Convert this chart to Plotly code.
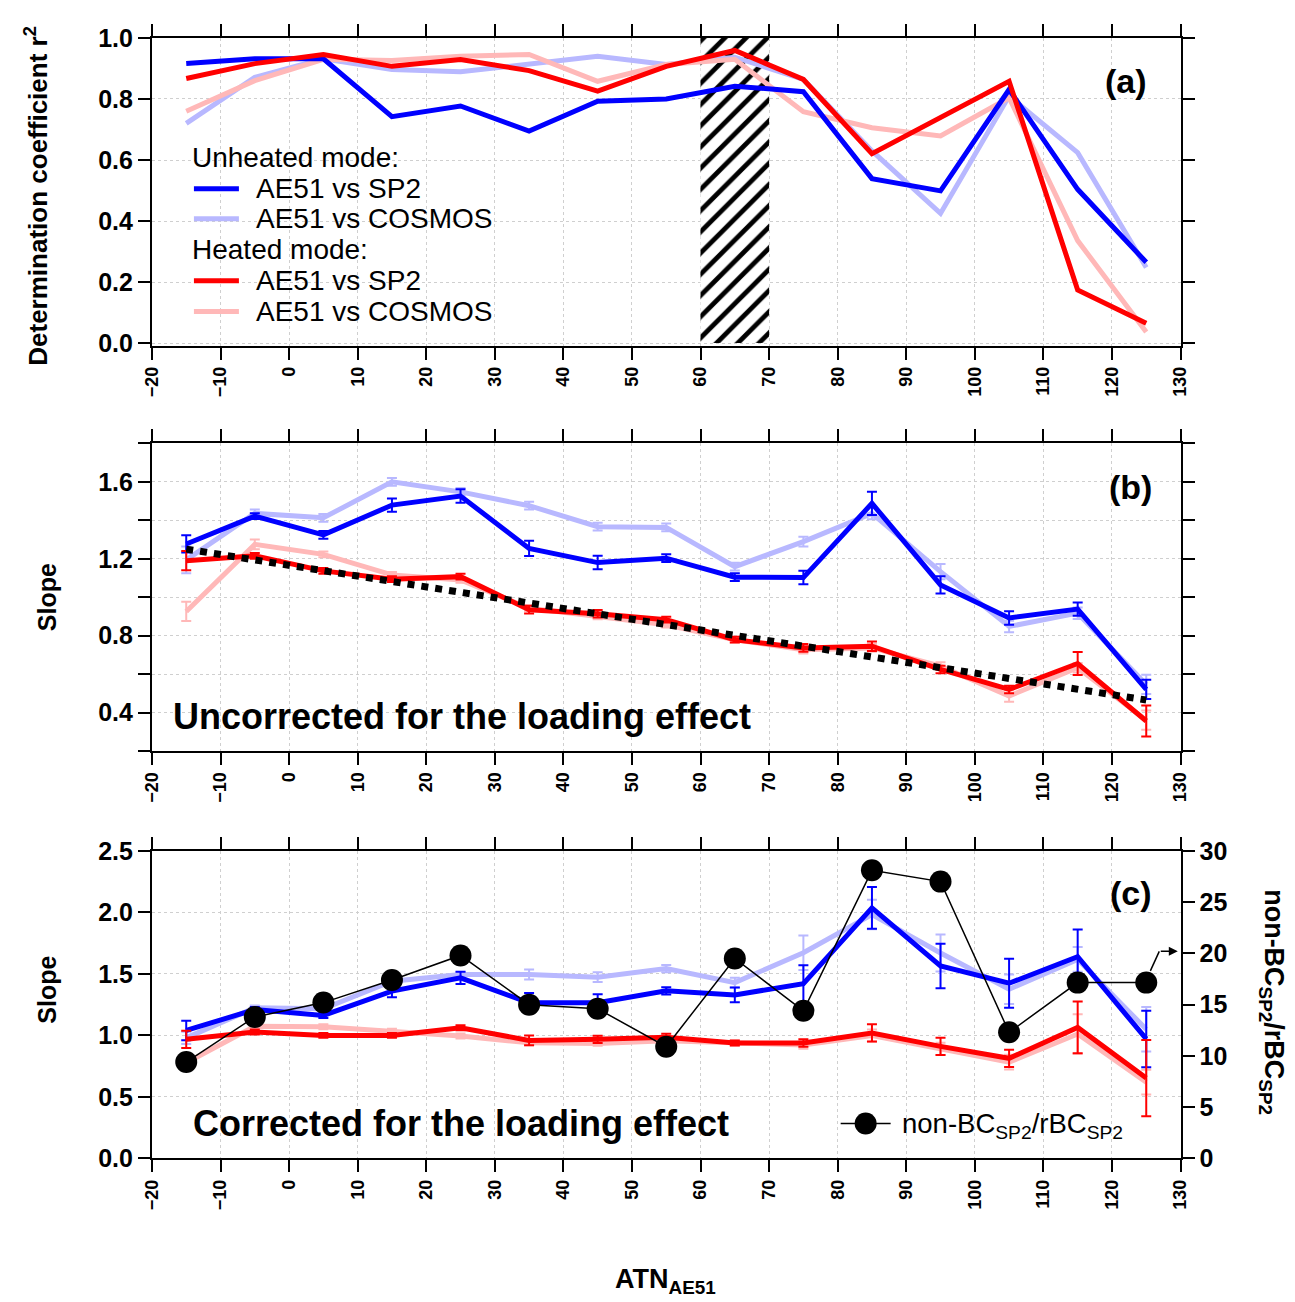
import plotly.graph_objects as go

# ---------------- data ----------------
atn = [-15, -5, 5, 15, 25, 35, 45, 55, 65, 75, 85, 95, 105, 115, 125]

# (a) determination coefficient r^2
r2_unheated_sp2 = [0.916, 0.932, 0.932, 0.742, 0.777, 0.695, 0.793, 0.800, 0.842, 0.824, 0.539, 0.499, 0.831, 0.504, 0.265]
r2_unheated_cosmos = [0.720, 0.871, 0.932, 0.897, 0.889, 0.915, 0.940, 0.913, 0.937, 0.864, 0.630, 0.425, 0.810, 0.624, 0.248]
r2_heated_sp2 = [0.867, 0.916, 0.946, 0.907, 0.929, 0.893, 0.826, 0.907, 0.959, 0.864, 0.621, 0.739, 0.858, 0.174, 0.065]
r2_heated_cosmos = [0.760, 0.860, 0.930, 0.926, 0.940, 0.946, 0.858, 0.913, 0.930, 0.758, 0.706, 0.679, 0.804, 0.336, 0.036]

# hatched ATN range in (a)
hatch_atn = [60, 70]

# (b) slope, uncorrected
unc_unheated_sp2 = [1.277, 1.422, 1.324, 1.479, 1.526, 1.254, 1.180, 1.203, 1.104, 1.102, 1.488, 1.064, 0.892, 0.938, 0.520]
unc_unheated_sp2_err = [0.045, 0.015, 0.020, 0.035, 0.035, 0.040, 0.035, 0.020, 0.020, 0.035, 0.060, 0.045, 0.035, 0.035, 0.050]
unc_unheated_cosmos = [1.194, 1.436, 1.413, 1.600, 1.548, 1.476, 1.367, 1.363, 1.159, 1.289, 1.436, 1.133, 0.848, 0.917, 0.546]
unc_unheated_cosmos_err = [0.070, 0.020, 0.020, 0.020, 0.020, 0.020, 0.020, 0.020, 0.020, 0.025, 0.030, 0.040, 0.030, 0.030, 0.050]
unc_heated_sp2 = [1.190, 1.215, 1.137, 1.094, 1.107, 0.935, 0.914, 0.883, 0.779, 0.736, 0.745, 0.624, 0.520, 0.655, 0.356]
unc_heated_sp2_err = [0.050, 0.015, 0.015, 0.015, 0.015, 0.020, 0.020, 0.015, 0.015, 0.020, 0.025, 0.020, 0.020, 0.060, 0.080]
unc_heated_cosmos = [0.926, 1.275, 1.223, 1.116, 1.090, 0.943, 0.900, 0.857, 0.779, 0.727, 0.736, 0.641, 0.486, 0.633, 0.360]
unc_heated_cosmos_err = [0.050, 0.025, 0.015, 0.015, 0.015, 0.015, 0.015, 0.015, 0.015, 0.020, 0.020, 0.020, 0.030, 0.025, 0.050]
fit_atn = [-15, 125]
fit_slope = [1.25, 0.465]

# (c) slope, corrected
cor_unheated_sp2 = [1.040, 1.210, 1.162, 1.360, 1.468, 1.265, 1.265, 1.362, 1.329, 1.421, 2.036, 1.564, 1.424, 1.640, 0.971]
cor_unheated_sp2_err = [0.080, 0.020, 0.020, 0.050, 0.050, 0.080, 0.070, 0.030, 0.060, 0.150, 0.170, 0.180, 0.200, 0.220, 0.230]
cor_unheated_cosmos = [0.980, 1.224, 1.216, 1.440, 1.495, 1.495, 1.473, 1.543, 1.429, 1.672, 1.982, 1.670, 1.375, 1.618, 1.050]
cor_unheated_cosmos_err = [0.050, 0.020, 0.020, 0.020, 0.020, 0.040, 0.040, 0.030, 0.040, 0.140, 0.120, 0.150, 0.120, 0.100, 0.180]
cor_heated_sp2 = [0.968, 1.027, 1.000, 1.000, 1.062, 0.959, 0.968, 0.984, 0.938, 0.938, 1.020, 0.911, 0.814, 1.065, 0.653]
cor_heated_sp2_err = [0.070, 0.020, 0.020, 0.020, 0.020, 0.040, 0.030, 0.030, 0.020, 0.030, 0.070, 0.070, 0.070, 0.210, 0.310]
cor_heated_cosmos = [0.778, 1.075, 1.070, 1.035, 0.995, 0.940, 0.935, 0.957, 0.938, 0.922, 0.998, 0.890, 0.782, 1.011, 0.620]
cor_heated_cosmos_err = [0.050, 0.020, 0.020, 0.020, 0.020, 0.020, 0.020, 0.020, 0.020, 0.030, 0.050, 0.050, 0.060, 0.160, 0.100]
nonbc_ratio = [9.4, 13.8, 15.2, 17.4, 19.8, 15.0, 14.6, 10.9, 19.5, 14.4, 28.1, 27.0, 12.3, 17.15, 17.15]

x_ticks = list(range(-20, 131, 10))

legend_a_groups = ["Unheated mode:", "Heated mode:"]
legend_a_names = ["AE51 vs SP2", "AE51 vs COSMOS"]
legend_c_name = "non-BC<sub>SP2</sub>/rBC<sub>SP2</sub>"

# ---------------- style ----------------
FONT = "Liberation Sans, Arial, sans-serif"
BLUE = "#0000FF"
LBLUE = "#B8B8FF"
RED = "#FF0000"
PINK = "#FFB8B8"
W = 1299
H = 1312
# empirical page placement of the figure in the photographed window
OFF_X, SC_X = 9.0, 0.985
OFF_Y, SC_Y = 13.0, 0.98


def px_x(p):
    return ((p - OFF_X) / SC_X) / W


def px_y(p):
    return 1 - ((p - OFF_Y) / SC_Y) / H


fig = go.Figure()

# hatched region (a)
fig.add_trace(go.Scatter(
    x=[hatch_atn[0], hatch_atn[1], hatch_atn[1], hatch_atn[0], hatch_atn[0]],
    y=[0, 0, 1, 1, 0], mode="lines", line=dict(width=0, color="black"),
    fill="toself", fillcolor="rgba(0,0,0,0)",
    fillpattern=dict(shape="/", fgcolor="black", fgopacity=1, bgcolor="white", size=15, solidity=0.32),
    showlegend=False, hoverinfo="skip", xaxis="x", yaxis="y"))

# (a) lines
for vals, col in [(r2_unheated_cosmos, LBLUE), (r2_heated_cosmos, PINK),
                  (r2_unheated_sp2, BLUE), (r2_heated_sp2, RED)]:
    fig.add_trace(go.Scatter(x=atn, y=vals, mode="lines", line=dict(color=col, width=5),
                             showlegend=False, xaxis="x", yaxis="y"))

# (b) lines
for vals, err, col in [(unc_unheated_cosmos, unc_unheated_cosmos_err, LBLUE),
                       (unc_heated_cosmos, unc_heated_cosmos_err, PINK),
                       (unc_unheated_sp2, unc_unheated_sp2_err, BLUE),
                       (unc_heated_sp2, unc_heated_sp2_err, RED)]:
    fig.add_trace(go.Scatter(
        x=atn, y=vals, mode="lines", line=dict(color=col, width=5),
        error_y=dict(type="data", array=err, color=col, thickness=2, width=5),
        showlegend=False, xaxis="x2", yaxis="y2"))
fig.add_trace(go.Scatter(
    x=fit_atn, y=fit_slope, mode="lines", line=dict(color="black", width=7, dash="dot"),
    showlegend=False, xaxis="x2", yaxis="y2"))

# (c) lines
for vals, err, col in [(cor_unheated_cosmos, cor_unheated_cosmos_err, LBLUE),
                       (cor_heated_cosmos, cor_heated_cosmos_err, PINK),
                       (cor_unheated_sp2, cor_unheated_sp2_err, BLUE),
                       (cor_heated_sp2, cor_heated_sp2_err, RED)]:
    fig.add_trace(go.Scatter(
        x=atn, y=vals, mode="lines", line=dict(color=col, width=5),
        error_y=dict(type="data", array=err, color=col, thickness=2, width=5),
        showlegend=False, xaxis="x3", yaxis="y3"))
fig.add_trace(go.Scatter(
    x=atn, y=nonbc_ratio, mode="lines+markers",
    line=dict(color="black", width=1.5), marker=dict(color="black", size=22),
    name=legend_c_name, showlegend=False, xaxis="x3", yaxis="y4"))

# ---------------- axes ----------------
xd = [px_x(151), px_x(1180)]
dom_a = [px_y(345), px_y(37)]
dom_b = [px_y(751), px_y(443)]
dom_c = [px_y(1159), px_y(851)]

tickfont = dict(family=FONT, size=25, color="black", weight="bold")
xtickfont = dict(family=FONT, size=18, color="black", weight="bold")
grid = dict(showgrid=True, gridcolor="#cfcfcf", griddash="dot", gridwidth=1)
common_ax = dict(showline=True, linecolor="black", linewidth=2, ticks="outside",
                 ticklen=12, tickwidth=2, tickcolor="black", mirror="ticks", zeroline=False)


def xaxis(anchor):
    return dict(domain=xd, anchor=anchor, range=[-20, 130], tickvals=x_ticks,
                tickangle=-90, tickfont=xtickfont, **grid, **common_ax)


fig.update_layout(
    xaxis=xaxis("y"),
    xaxis2=xaxis("y2"),
    xaxis3=xaxis("y3"),
    yaxis=dict(domain=dom_a, anchor="x", range=[-0.008, 1.0], tickvals=[0, 0.2, 0.4, 0.6, 0.8, 1.0],
               ticktext=["0.0", "0.2", "0.4", "0.6", "0.8", "1.0"], tickfont=tickfont, **grid, **common_ax),
    yaxis2=dict(domain=dom_b, anchor="x2", range=[0.2, 1.8], tickvals=[0.4, 0.8, 1.2, 1.6],
                ticktext=["0.4", "0.8", "1.2", "1.6"], tickfont=tickfont,
                minor=dict(tickvals=[0.2, 0.6, 1.0, 1.4, 1.8], ticklen=12, tickwidth=2, tickcolor="black",
                           showgrid=True, gridcolor="#cfcfcf", griddash="dot"),
                **grid, **common_ax),
    yaxis3=dict(domain=dom_c, anchor="x3", range=[0, 2.5], tickvals=[0, 0.5, 1.0, 1.5, 2.0, 2.5],
                ticktext=["0.0", "0.5", "1.0", "1.5", "2.0", "2.5"], tickfont=tickfont, **grid,
                showline=True, linecolor="black", linewidth=2, ticks="outside", ticklen=12, tickwidth=2,
                tickcolor="black", zeroline=False),
    yaxis4=dict(overlaying="y3", side="right", anchor="x3", range=[0, 30], tickvals=[0, 5, 10, 15, 20, 25, 30],
                tickfont=tickfont, showgrid=False, showline=True, linecolor="black", linewidth=2,
                ticks="outside", ticklen=12, tickwidth=2, tickcolor="black", zeroline=False),
)

fig.update_layout(
    width=W, height=H, autosize=False,
    margin=dict(l=0, r=0, t=0, b=0),
    paper_bgcolor="white", plot_bgcolor="white",
    font=dict(family=FONT, color="black"),
    showlegend=False,
)

# ---------------- annotations ----------------
ann = []
shapes = []


def text(x, y, t, size, bold=True, angle=0, xanchor="center"):
    ann.append(dict(x=px_x(x), y=px_y(y), xref="paper", yref="paper", text=t, showarrow=False,
                    textangle=angle, xanchor=xanchor, yanchor="middle",
                    font=dict(family=FONT, size=size, color="black", weight="bold" if bold else "normal")))


text(36, 195, "Determination coefficient r<sup>2</sup>", 26, angle=-90)
text(46, 597, "Slope", 25, angle=-90)
text(46, 990, "Slope", 25, angle=-90)
text(1272, 1003, "non-BC<sub>SP2</sub>/rBC<sub>SP2</sub>", 27, angle=90)
text(1125, 80, "(a)", 34)
text(1130, 487, "(b)", 34)
text(1130, 893, "(c)", 34)
text(170, 716, "Uncorrected for the loading effect", 36, xanchor="left")
text(190, 1124, "Corrected for the loading effect", 36, xanchor="left")
text(665, 1282, "ATN<sub>AE51</sub>", 27)

# legend of panel (a)
legend_rows = [
    (157, legend_a_groups[0], None),
    (188, legend_a_names[0], BLUE),
    (218, legend_a_names[1], LBLUE),
    (249, legend_a_groups[1], None),
    (280, legend_a_names[0], RED),
    (311, legend_a_names[1], PINK),
]
for yy, label, col in legend_rows:
    if col is None:
        text(189, yy, label, 28, bold=False, xanchor="left")
    else:
        text(253, yy, label, 28, bold=False, xanchor="left")
        shapes.append(dict(type="line", xref="paper", yref="paper", x0=px_x(193), x1=px_x(238),
                           y0=px_y(yy), y1=px_y(yy), line=dict(color=col, width=5)))

# legend of panel (c)
shapes.append(dict(type="line", xref="paper", yref="paper", x0=px_x(840), x1=px_x(890),
                   y0=px_y(1124), y1=px_y(1124), line=dict(color="black", width=1.5)))
shapes.append(dict(type="circle", xref="paper", yref="paper", x0=px_x(854), x1=px_x(876),
                   y0=px_y(1135), y1=px_y(1113), fillcolor="black", line=dict(color="black", width=0)))
text(899, 1126, legend_c_name, 27.5, bold=False, xanchor="left")

# arrow pointing to the right axis
ann.append(dict(x=129.6, y=20.2, xref="x3", yref="y4", ax=126.9, ay=20.2, axref="x3", ayref="y4",
                text="", showarrow=True, arrowhead=2, arrowsize=1.2, arrowwidth=1.5, arrowcolor="black"))
shapes.append(dict(type="line", x0=125.6, y0=18.3, x1=126.9, y1=20.2, xref="x3", yref="y4",
                   line=dict(color="black", width=1.5)))

fig.update_layout(annotations=ann, shapes=shapes)

fig.write_html("out.html")
